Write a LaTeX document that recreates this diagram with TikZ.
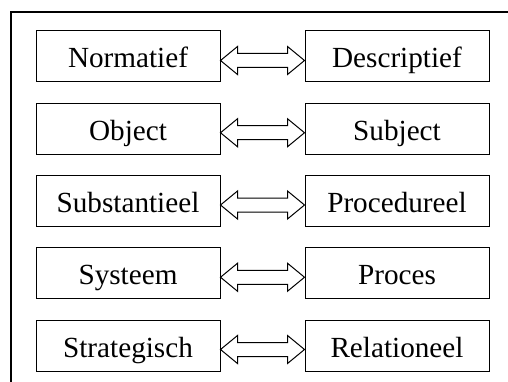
\documentclass[tikz,border=0pt]{standalone}
\usepackage{fontspec}
\setmainfont{Liberation Serif}
\usetikzlibrary{calc}
\tikzset{
  term/.style={draw, line width=1pt, minimum width=184pt, minimum height=51pt,
               inner sep=0pt, text height=23pt, text depth=0pt,
               font=\fontsize{29.2}{31}\selectfont},
  frame/.style={line width=1.3pt},
  biarrow/.style={draw, line width=1pt, fill=white, line join=miter}
}
% hollow double-headed arrow between two boxes
\newcommand{\pairarrow}[2]{%
  \path (#1.east) ++(0,-4) coordinate (l) (#2.west) ++(0,-4) coordinate (r);
  \draw[biarrow] (l) -- ($(l)+(17,14)$) -- ($(l)+(17,7)$) -- ($(r)+(-17,7)$)
    -- ($(r)+(-17,14)$) -- (r) -- ($(r)+(-17,-14)$) -- ($(r)+(-17,-7)$)
    -- ($(l)+(17,-7)$) -- ($(l)+(17,-14)$) -- cycle;}
\begin{document}
\begin{tikzpicture}[x=1pt,y=1pt]
\useasboundingbox (0,0) rectangle (508,-382);
\draw[frame] (11,-382) -- (11,-12) -- (508,-12);
\foreach \i/\a/\b in {0/Normatief/Descriptief,1/Object/Subject,2/Substantieel/Procedureel,3/Systeem/Proces,4/Strategisch/Relationeel}{
  \node[term] (L\i) at (128,-56.5-72.25*\i) {\a};
  \node[term] (R\i) at (397,-56.5-72.25*\i) {\b};
  \pairarrow{L\i}{R\i}
}
\end{tikzpicture}
\end{document}
